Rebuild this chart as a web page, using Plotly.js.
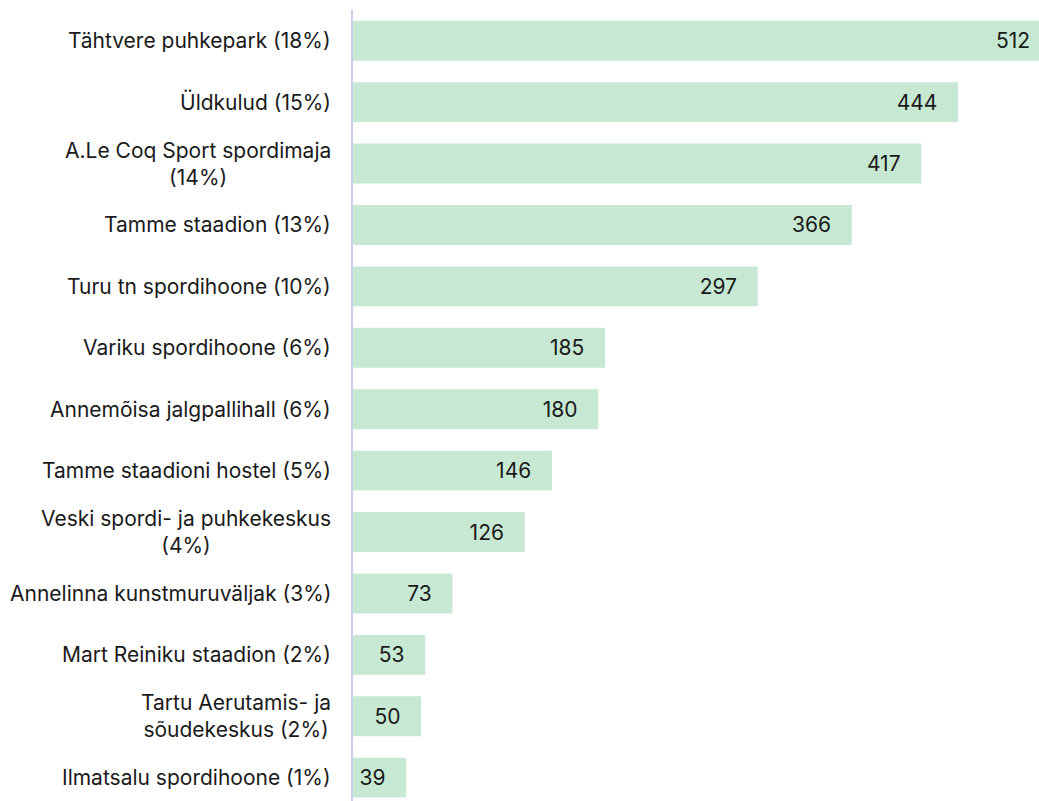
<!DOCTYPE html>
<html>
<head>
<meta charset="utf-8">
<script src="https://cdn.plot.ly/plotly-3.0.1.min.js"></script>
<style>
html,body{margin:0;padding:0;background:#fff;overflow:hidden;}
#chart{width:1039px;height:801px;}
</style>
</head>
<body>
<div id="chart"></div>
<script>
const categories = [
  "Tähtvere puhkepark (18%)",
  "Üldkulud (15%)",
  "A.Le Coq Sport spordimaja<br>(14%)",
  "Tamme staadion (13%)",
  "Turu tn spordihoone (10%)",
  "Variku spordihoone (6%)",
  "Annemõisa jalgpallihall (6%)",
  "Tamme staadioni hostel (5%)",
  "Veski spordi- ja puhkekeskus<br>(4%)",
  "Annelinna kunstmuruväljak (3%)",
  "Mart Reiniku staadion (2%)",
  "Tartu Aerutamis- ja<br>sõudekeskus (2%)",
  "Ilmatsalu spordihoone (1%)"
];
const values = [512, 444, 417, 366, 297, 185, 180, 146, 126, 73, 53, 50, 39];

const FONT = "Inter, 'Noto Sans', sans-serif";
const TEXT_COLOR = "#1a1a1a";

const trace = {
  type: "bar",
  orientation: "h",
  y: categories,
  x: values,
  marker: {color: "#c7e9d3", line: {width: 0}},
  texttemplate: "%{x}\u00a0\u00a0\u00a0",
  textposition: "inside",
  insidetextanchor: "end",
  constraintext: "none",
  textfont: {family: FONT, size: 21, color: TEXT_COLOR},
  hoverinfo: "skip"
};

const annotations = categories.map(c => ({
  x: 0, xref: "paper", xanchor: "right", xshift: -21,
  y: c, yref: "y", yanchor: "middle",
  text: c, showarrow: false, align: "center", borderpad: 0,
  font: {family: FONT, size: 21, color: TEXT_COLOR}
}));

const layout = {
  width: 1039, height: 801,
  margin: {l: 353, r: 0, t: 10, b: 0, pad: 0},
  paper_bgcolor: "#ffffff", plot_bgcolor: "#ffffff",
  bargap: 0.35,
  showlegend: false,
  xaxis: {range: [0, 503.4], visible: false, fixedrange: true},
  yaxis: {
    type: "category",
    range: [12.38, -0.5],
    showticklabels: false, ticks: "",
    showgrid: false, zeroline: false,
    showline: true, linecolor: "#c9d0ea", linewidth: 2,
    fixedrange: true
  },
  annotations: annotations
};

Plotly.newPlot("chart", [trace], layout, {displayModeBar: false, staticPlot: true});
</script>
</body>
</html>
